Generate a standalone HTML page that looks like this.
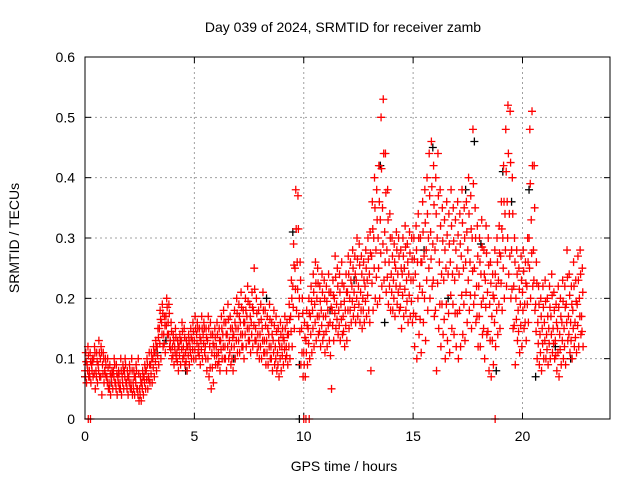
<!DOCTYPE html>
<html><head><meta charset="utf-8"><style>
body{margin:0;background:#fff}
svg{display:block;font-family:"Liberation Sans",sans-serif}
</style></head><body>
<svg id="chart" width="640" height="480">
<rect x="0" y="0" width="640" height="480" fill="#fff"/>
<text x="343" y="32" text-anchor="middle" font-size="14">Day 039 of 2024, SRMTID for receiver zamb</text>
<text x="344" y="471" text-anchor="middle" font-size="14">GPS time / hours</text>
<text transform="translate(19,238) rotate(-90)" text-anchor="middle" font-size="14">SRMTID / TECUs</text>
<g id="grid"></g>
<g id="ticks"></g>
<g id="black"></g>
<g id="red"></g>
<rect x="85" y="57" width="525" height="362" fill="none" stroke="#000" stroke-width="1"/>
</svg>
<script>
const xTicks=[0,5,10,15,20];
const yTicks=[0,0.1,0.2,0.3,0.4,0.5,0.6];
const yTickLabels=["0","0.1","0.2","0.3","0.4","0.5","0.6"];
const redStep=0.1;
const redHi=[.11,.12,.11,.10,.12,.11,.13,.12,.11,.10, .10,.09,.08,.10,.09,.08,.10,.09,.10,.08, .09,.10,.08,.09,.10,.07,.08,.09,.10,.11, .11,.12,.13,.15,.18,.19,.17,.20,.19,.16, .14,.15,.13,.14,.16,.15,.13,.14,.15,.16, .17,.16,.15,.17,.16,.15,.17,.16,.14,.15, .16,.15,.17,.18,.16,.19,.17,.15,.18,.20, .19,.21,.18,.20,.22,.19,.21,.25,.20,.18, .19,.21,.18,.17,.19,.16,.18,.17,.15,.16, .15,.17,.16,.19,.23,.29,.38,.37,.26,.20, .16,.18,.20,.22,.24,.26,.25,.22,.24,.23, .22,.24,.21,.23,.27,.25,.24,.26,.22,.24, .27,.26,.28,.27,.30,.29,.27,.26,.28,.30, .31,.36,.40,.38,.42,.50,.53,.44,.38,.34, .30,.29,.31,.30,.28,.30,.32,.29,.31,.30, .30,.32,.34,.30,.36,.38,.40,.44,.46,.42, .40,.44,.38,.35,.33,.36,.34,.38,.35,.33, .36,.34,.38,.35,.36,.40,.37,.48,.35,.32, .30,.33,.28,.32,.30,.26,.24,.28,.30,.32, .36,.42,.48,.52,.51,.40,.30,.28,.25,.27, .28,.26,.30,.48,.51,.42,.26,.22,.20,.22, .23,.20,.22,.24,.21,.19,.22,.20,.23,.22, .28,.24,.22,.26,.23,.27,.28,.25];
const redMid=[.08,.09,.08,.09,.10,.08,.09,.10,.09,.08, .07,.06,.07,.08,.06,.07,.06,.07,.08,.06, .07,.06,.06,.07,.05,.05,.06,.07,.08,.07, .09,.10,.11,.12,.15,.16,.14,.17,.16,.13, .12,.12,.11,.12,.13,.12,.11,.12,.12,.13, .13,.14,.12,.13,.14,.12,.13,.12,.11,.12, .12,.11,.13,.14,.12,.14,.13,.12,.14,.15, .15,.16,.14,.16,.17,.15,.16,.18,.15,.14, .14,.15,.13,.13,.14,.12,.13,.12,.11,.12, .12,.13,.12,.14,.17,.22,.25,.26,.20,.15, .11,.13,.15,.17,.18,.19,.20,.17,.18,.17, .17,.18,.16,.18,.20,.19,.18,.19,.17,.18, .21,.20,.22,.21,.23,.22,.21,.20,.22,.23, .24,.27,.30,.28,.30,.33,.35,.31,.28,.26, .24,.23,.25,.24,.22,.24,.25,.23,.24,.23, .23,.24,.26,.22,.26,.27,.28,.30,.31,.29, .28,.30,.26,.24,.23,.25,.24,.26,.24,.23, .25,.24,.27,.25,.26,.28,.26,.30,.25,.22, .22,.24,.20,.23,.21,.19,.17,.20,.22,.23, .27,.30,.34,.36,.34,.28,.22,.20,.18,.19, .21,.19,.22,.30,.33,.28,.19,.16,.14,.15, .16,.14,.15,.17,.15,.13,.15,.14,.16,.15, .19,.17,.16,.18,.16,.19,.20,.17];
const redLo=[.06,.07,.06,.07,.05,.06,.07,.04,.06,.07, .05,.04,.05,.06,.04,.05,.04,.05,.06,.04, .05,.04,.04,.05,.03,.03,.04,.05,.05,.06, .06,.07,.08,.09,.10,.12,.11,.14,.12,.10, .09,.10,.08,.09,.10,.09,.08,.09,.10,.10, .10,.11,.09,.10,.11,.08,.07,.05,.06,.09, .09,.08,.10,.10,.08,.10,.09,.08,.10,.11, .11,.12,.10,.12,.13,.11,.12,.13,.11,.10, .10,.11,.09,.09,.10,.08,.09,.08,.07,.08, .09,.10,.09,.10,.12,.15,.18,.17,.09,.07, .07,.09,.10,.11,.12,.13,.14,.12,.13,.11, .12,.13,.05,.13,.15,.14,.13,.14,.12,.13, .15,.16,.17,.16,.17,.16,.15,.16,.17,.18, .08,.18,.20,.19,.20,.22,.23,.21,.19,.18, .18,.17,.19,.18,.15,.17,.18,.16,.17,.16, .12,.10,.14,.11,.16,.13,.18,.20,.22,.17, .08,.15,.12,.14,.10,.13,.11,.15,.14,.12, .10,.12,.14,.13,.16,.18,.15,.19,.16,.12, .12,.14,.10,.14,.08,.07,.09,.12,.14,.15, .18,.20,.22,.24,.20,.15,.09,.13,.11,.12, .15,.13,.16,.20,.22,.18,.10,.09,.08,.10, .10,.09,.10,.11,.10,.08,.07,.09,.10,.09, .13,.11,.10,.12,.11,.12,.14,.12];
const redZeroTimes=[0.15,0.25,10.0,10.1,10.25,18.75];
const blackTimes=[0.0,1.2,3.3,3.7,4.6,6.8,8.3,9.5,9.8,11.2,12.3,13.5,13.7,14.6,15.5,15.9,16.6,17.4,17.8,18.1,18.8,19.1,19.5,20.3,20.6,21.5,22.2];
const blackVals=[.07,.06,.11,.13,.08,.10,.20,.31,.09,.18,.23,.42,.16,.25,.28,.45,.20,.38,.46,.29,.08,.41,.36,.38,.07,.12,.10];

const X0=85,X1=610,Y0=419,Y1=57;
const xs=t=>X0+(t/24)*(X1-X0);
const ys=v=>Y0-(v/0.6)*(Y0-Y1);
const NS="http://www.w3.org/2000/svg";
function mk(tag,attrs,parent){const e=document.createElementNS(NS,tag);for(const k in attrs)e.setAttribute(k,attrs[k]);parent.appendChild(e);return e;}
const grid=document.getElementById('grid'),ticks=document.getElementById('ticks');
xTicks.forEach((t,i)=>{
  const x=xs(t);
  if(t>0){const g=mk('line',{x1:x,x2:x,y1:Y0,y2:Y1,stroke:'#a0a0a0','stroke-dasharray':'2,3'},grid);
    
    }
  mk('line',{x1:x,x2:x,y1:Y0,y2:Y0-6,stroke:'#000'},ticks);
  mk('line',{x1:x,x2:x,y1:Y1,y2:Y1+6,stroke:'#000'},ticks);
  const l=mk('text',{x:x,y:Y0+22,'text-anchor':'middle','font-size':14},ticks);
  l.textContent=String(t);
  
  
});
yTicks.forEach((v,i)=>{
  const y=ys(v);
  if(v>0&&v<0.6){const g=mk('line',{x1:X0,x2:X1,y1:y,y2:y,stroke:'#a0a0a0','stroke-dasharray':'2,3'},grid);
    
    }
  mk('line',{x1:X0,x2:X0+6,y1:y,y2:y,stroke:'#000'},ticks);
  mk('line',{x1:X1,x2:X1-6,y1:y,y2:y,stroke:'#000'},ticks);
  const l=mk('text',{x:X0-10,y:y+5,'text-anchor':'end','font-size':14},ticks);
  l.textContent=yTickLabels[i];
  
  
});
function plus(t,v,color,parent){
  const x=xs(t),y=ys(v);
  const p=mk('path',{d:`M${x-4},${y}H${x+4}M${x},${y-4}V${y+4}`,stroke:color,'stroke-width':1.3,fill:'none'},parent);
  
  
}
const bg=document.getElementById('black'),rg=document.getElementById('red');
blackTimes.forEach((t,i)=>plus(t,blackVals[i],'#000',bg));
plus(9.8,0,'#000',bg);
redHi.forEach((v,i)=>{
  const t=i*redStep;
  plus(t+0.0,redMid[i],'#ff0000',rg);
  plus(t+0.035,v,'#ff0000',rg);
  plus(t+0.07,redLo[i],'#ff0000',rg);
  plus(t+0.055,(v+redMid[i])/2,'#ff0000',rg);
  plus(t+0.02,(redLo[i]+redMid[i])/2,'#ff0000',rg);
});
redZeroTimes.forEach(t=>plus(t,0,'#ff0000',rg));
</script>
</body></html>
